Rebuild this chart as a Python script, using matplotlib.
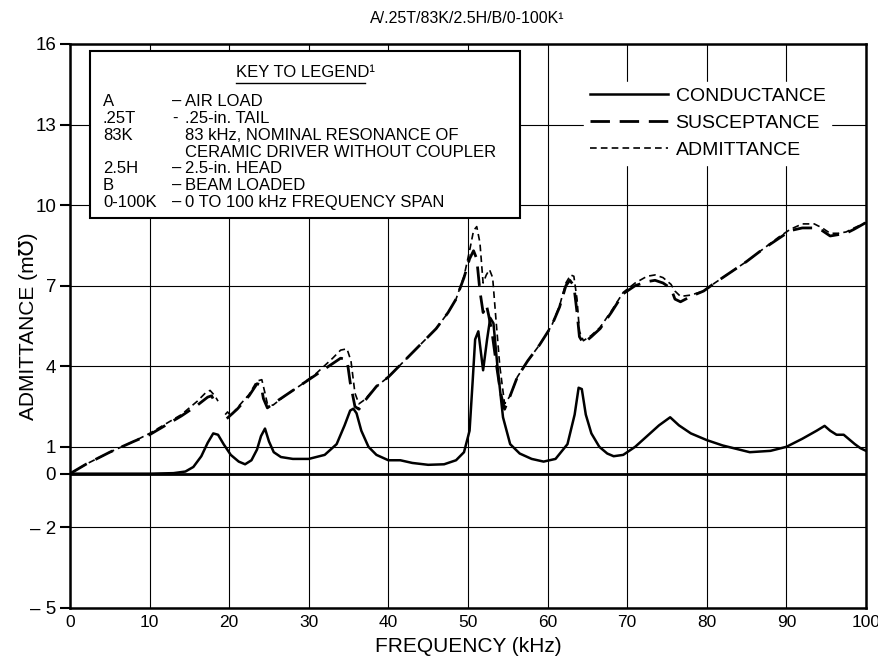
import numpy as np
import matplotlib.pyplot as plt
from matplotlib.lines import Line2D

plt.rcParams['font.family'] = ['Liberation Sans', 'DejaVu Sans']

nan = np.nan

# conductance (solid)
f_g = [0, 5, 10, 13, 14.5, 15.5, 16.5, 17.3, 18.0, 18.6, 19.3, 20.2, 21.2, 22.0, 22.8,
       23.5, 24.0, 24.5, 25.0, 25.6, 26.5, 28, 30, 32, 33.5, 34.5, 35.2, 35.6, 36.0,
       36.6, 37.5, 38.5, 40, 41.5, 43, 45, 47, 48.5, 49.5, 50.2, 50.6, 50.9, 51.3,
       51.9, 52.4, 52.8, 53.2, 53.7, 54.4, 55.3, 56.5, 58, 59.5, 61, 62.5, 63.4, 63.9,
       64.3, 64.8, 65.5, 66.5, 67.5, 68.3, 69.5, 71, 72.5, 74, 75.4, 76.5, 78, 80, 82,
       85.4, 88, 90, 92, 93.8, 94.8, 95.5, 96.3, 97.2, 97.8, 98.6, 99.3, 100]
conductance = [0, 0, 0, 0.02, 0.08, 0.25, 0.65, 1.15, 1.5, 1.45, 1.1, 0.7, 0.45, 0.35, 0.5,
               0.9, 1.4, 1.68, 1.2, 0.8, 0.62, 0.55, 0.55, 0.7, 1.1, 1.8, 2.35, 2.42, 2.25,
               1.6, 1.0, 0.7, 0.5, 0.5, 0.4, 0.33, 0.35, 0.5, 0.8, 1.6, 3.5, 5.0, 5.3,
               3.85, 5.0, 5.8, 5.6, 4.0, 2.1, 1.1, 0.75, 0.55, 0.45, 0.55, 1.1, 2.2, 3.2,
               3.15, 2.2, 1.5, 1.0, 0.75, 0.65, 0.7, 1.0, 1.4, 1.8, 2.1, 1.8, 1.5, 1.25, 1.05,
               0.8, 0.85, 1.0, 1.3, 1.6, 1.78, 1.6, 1.45, 1.45, 1.3, 1.1, 0.95, 0.85]

# susceptance (long dash)
f_b = [0, 2, 5, 8, 10, 12, 14, 16, 17.3, 17.8, 18.2, 18.9, 19.7, 21, 22.5, 23.5, 24, 24.3,
       24.8, 25.5, 27, 29, 31, 33, 34, 34.8, 35.2, 35.8, 36.3, 37, 38.5, 40, 42, 44, 46,
       47.5, 48.5, 49.5, 50.2, 50.7, 51.1, 51.5, 51.9, 52.3, 52.6, 53.0, 53.6, 54.1, 54.6,
       55.3, 56.2, 57.5, 59, 60.5, 61.5, 62.3, 62.8, 63.3, 63.7, 64.0, 64.5, 65.5, 66.6,
       68, 69.5, 71, 72.5, 73.5, 74.5, 75.5, 76, 76.7, 78, 79.6, 81, 83, 85, 87, 89, 90.5,
       92, 93.5, 94.5, 95.5, 96.5, 97.5, 98.5, 100]
susceptance = [0, 0.35, 0.8, 1.2, 1.45, 1.8, 2.15, 2.55, 2.85, 2.9, 2.65, nan, 2.05, 2.4,
               2.9, 3.35, 3.3, 2.8, 2.45, 2.6, 2.9, 3.3, 3.7, 4.1, 4.3, 4.25, 3.4, 2.5, 2.4,
               2.7, 3.25, 3.6, 4.2, 4.8, 5.4, 6.0, 6.5, 7.3, 8.0, 8.3, 8.0, 6.8, 6.0, 6.3,
               5.9, 5.3, 4.0, 3.0, 2.4, 2.9, 3.6, 4.2, 4.8, 5.5, 6.2, 7.0, 7.2, 7.0, 6.0,
               5.1, 4.85, 5.1, 5.4, 6.0, 6.7, 7.0, 7.15, 7.2, 7.1, 6.9, 6.5, 6.4, 6.6, 6.8,
               7.1, 7.5, 7.9, 8.35, 8.75, 9.05, 9.15, 9.15, 9.05, 8.85, 8.9, 8.95, 9.1, 9.35]

# admittance (short dash)
f_y = [0, 2, 5, 8, 10, 12, 14, 16, 17.0, 17.6, 18.2, 18.6, 19.1, 19.5, 19.8, 20.2, 21,
       22.5, 23.5, 24.1, 24.5, 24.8, 25.5, 27, 29, 31, 33, 34, 34.8, 35.3, 35.8, 36.3, 37,
       38.5, 40, 42, 44, 46, 47.5, 48.5, 49.5, 50.2, 50.7, 51.1, 51.5, 51.9, 52.3, 52.7,
       53.1, 53.5, 54.0, 54.6, 55.3, 56.2, 57.5, 59, 60.5, 61.5, 62.3, 62.9, 63.3, 63.7,
       64.0, 64.5, 65.5, 66.6, 68, 69.5, 71, 72.5, 73.5, 74.5, 75.5, 76, 76.7, 78, 79.6,
       81, 83, 85, 87, 89, 90.5, 92, 93.5, 94.5, 95.5, 96.5, 97.5, 98.5, 100]
admittance = [0, 0.35, 0.8, 1.2, 1.5, 1.85, 2.2, 2.7, 3.0, 3.1, 2.9, 2.7, nan, 2.2, 2.3,
              2.15, 2.45, 2.95, 3.45, 3.5, 3.0, 2.6, 2.55, 2.9, 3.3, 3.75, 4.3, 4.6, 4.65,
              4.2, 3.0, 2.6, 2.75, 3.25, 3.6, 4.2, 4.8, 5.4, 6.0, 6.5, 7.35, 8.3, 9.05, 9.2,
              8.6, 7.1, 7.4, 7.6, 7.3, 5.8, 4.0, 2.6, 2.9, 3.6, 4.2, 4.8, 5.5, 6.25, 7.1,
              7.4, 7.35, 6.5, 5.3, 4.95, 5.15, 5.45, 6.05, 6.75, 7.1, 7.35, 7.4, 7.3, 7.05,
              6.8, 6.6, 6.65, 6.8, 7.1, 7.5, 7.9, 8.35, 8.8, 9.1, 9.3, 9.3, 9.15, 8.95, 8.95,
              9.0, 9.15, 9.35]

yticks = [-5, -2, 0, 1, 4, 7, 10, 13, 16]
xticks = list(range(0, 101, 10))

key_rows = [('A', '–', 'AIR LOAD'),
            ('.25T', '-', '.25-in. TAIL'),
            ('83K', '', '83 kHz, NOMINAL RESONANCE OF'),
            ('', '', 'CERAMIC DRIVER WITHOUT COUPLER'),
            ('2.5H', '–', '2.5-in. HEAD'),
            ('B', '–', 'BEAM LOADED'),
            ('0-100K', '–', '0 TO 100 kHz FREQUENCY SPAN')]

fig = plt.figure(figsize=(8.79, 6.67), dpi=100)
ax = fig.add_axes([0.0796, 0.0885, 0.9056, 0.8456])

ax.plot(f_g, conductance, color='black', lw=1.8, label='CONDUCTANCE')
ax.plot(f_b, susceptance, color='black', lw=2.0, dashes=(7, 3.5), label='SUSCEPTANCE')
ax.plot(f_y, admittance, color='black', lw=1.2, dashes=(4, 2.5), label='ADMITTANCE')
ax.axhline(0, color='black', lw=2)

ax.set_xlim(0, 100)
ax.set_ylim(-5, 16)
ax.set_xticks(xticks)
ax.set_yticks(yticks)
ax.set_yticklabels([f'– {-v}' if v < 0 else str(v) for v in yticks])
ax.grid(True, color='black', lw=0.8)
ax.set_axisbelow(True)
for s in ax.spines.values():
    s.set_linewidth(1.8)
ax.tick_params(axis='y', direction='out', length=7, width=1.5, labelsize=13.5, pad=3)
ax.tick_params(axis='x', length=0, labelsize=12.5, pad=5)

ax.set_xlabel('FREQUENCY (kHz)', fontsize=15)
ax.set_ylabel('ADMITTANCE (m℧)', fontsize=15)
ax.xaxis.set_label_coords(0.5, -0.052)
ax.yaxis.set_label_coords(-0.04, 0.5)
fig.text(0.532, 0.973, 'A/.25T/83K/2.5H/B/0-100K¹', ha='center', va='center', fontsize=11.5)

leg = ax.legend(loc='upper left', bbox_to_anchor=(0.646, 0.933), fontsize=14,
                handlelength=4.0, handletextpad=0.4, labelspacing=0.47,
                borderpad=0.3, borderaxespad=0, frameon=True, fancybox=False)
leg.get_frame().set_facecolor('white')
leg.get_frame().set_edgecolor('white')
leg.get_frame().set_alpha(1)

# key box
def fy(py):
    return (608 - py) / 564

def fx(px):
    return (px - 70) / 796

box = plt.Rectangle((fx(90), fy(218)), fx(520) - fx(90), fy(51.5) - fy(218),
                    transform=ax.transAxes, facecolor='white', edgecolor='black',
                    lw=1.5, zorder=5)
ax.add_patch(box)
kt = ax.text(fx(305), fy(73), 'KEY TO LEGEND¹', transform=ax.transAxes, ha='center',
             va='center', fontsize=12, zorder=6)
for i, (a, d, b) in enumerate(key_rows):
    yy = fy(101.7 + i * 16.8)
    ax.text(fx(103), yy, a, transform=ax.transAxes, va='center', fontsize=12, zorder=6)
    ax.text(fx(172), yy, d, transform=ax.transAxes, va='center', fontsize=12, zorder=6)
    ax.text(fx(185), yy, b, transform=ax.transAxes, va='center', fontsize=12, zorder=6)

fig.canvas.draw()
bb = kt.get_window_extent().transformed(ax.transAxes.inverted())
ax.add_line(Line2D([bb.x0, bb.x1 - 0.012], [bb.y0 - 0.004, bb.y0 - 0.004],
                   transform=ax.transAxes, color='black', lw=1, zorder=6))

fig.savefig('out.png', dpi=100)
